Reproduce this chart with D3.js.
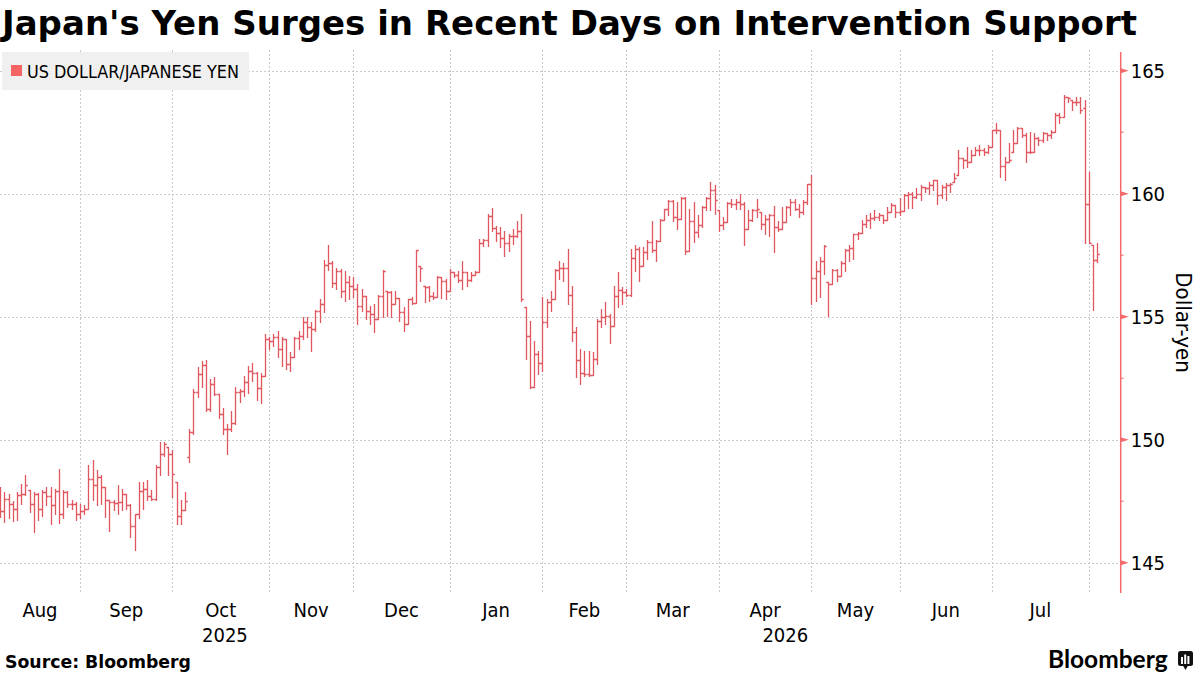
<!DOCTYPE html>
<html>
<head>
<meta charset="utf-8">
<script src="https://cdn.jsdelivr.net/npm/d3@7"></script>
<style>
  body { margin: 0; background: #fff; }
  svg { display: block; }
</style>
</head>
<body>
<svg id="chart" width="1200" height="675"></svg>
<script>
const title = "Japan's Yen Surges in Recent Days on Intervention Support"
const seriesName = "US DOLLAR/JAPANESE YEN"
const yLabel = "Dollar-yen"
const source = "Source: Bloomberg"
const yTicks = [145, 150, 155, 160, 165]
const yMinorTicks = [147.5, 152.5, 157.5, 162.5]
const monthNames = ["Jan","Feb","Mar","Apr","May","Jun","Jul","Aug","Sep","Oct","Nov","Dec"]

// daily bars, [open, high, low, close]
const aug25 = [
  [147.8,148.08,146.86,147.1],[147.1,147.87,146.65,147.6],[147.6,147.8,146.8,147.37],
  [147.37,147.5,146.7,147.2],[147.2,147.87,146.72,147.74],[147.74,148.2,147.4,147.8],
  [147.8,148.55,147.75,148.15],[147.94,147.94,147.06,147.37],[147.37,147.87,146.25,147.8],
  [147.8,147.85,146.72,147.2],[147.2,147.94,146.9,147.87],[147.87,148.08,147.33,147.7],
  [147.7,148.08,146.59,147.33],[147.33,148.0,147.0,147.9],[147.9,148.8,146.6,147.0],
  [147.0,147.94,146.8,147.87],[147.87,147.9,147.26,147.4],[147.4,147.53,147.2,147.4],
  [147.4,147.46,146.72,146.99]
]
const sep25 = [
  [146.99,147.4,146.8,147.1],[147.1,147.33,147.0,147.2],[147.2,148.96,147.2,148.4],
  [148.4,149.16,147.53,148.15],[148.15,148.75,147.33,148.5],[148.5,148.55,147.4,148.08],
  [148.08,148.08,146.86,147.53],[147.53,147.53,146.31,147.46],[147.46,147.53,147.13,147.43],
  [147.43,148.15,146.99,147.46],[147.46,148.0,147.13,147.78],[147.78,147.8,147.2,147.33],
  [147.33,147.4,146.04,146.48],[146.48,146.99,145.5,146.99],[146.99,148.28,146.8,147.9],
  [147.9,148.28,147.2,148.0],[148.0,148.35,147.53,147.7],[147.7,147.94,147.53,147.6],
  [147.6,148.96,147.53,148.89],[148.89,149.9,148.55,149.4],[149.4,149.9,149.35,149.84],
  [149.7,149.7,148.55,149.4]
]
const oct25 = [
  [149.4,149.6,147.67,148.62],[148.28,148.28,146.59,146.9],[146.9,147.53,146.59,147.13],
  [147.13,147.87,147.13,147.5],[149.3,150.45,149.1,150.3],[150.3,152.06,150.23,151.92],
  [151.92,152.97,151.72,152.67],[152.67,153.21,152.13,153.05],[153.05,153.24,151.15,151.25],
  [151.25,152.47,151.18,152.26],[152.26,152.56,151.8,151.86],[151.86,151.86,150.9,151.04],
  [151.04,151.31,150.23,150.43],[150.43,150.64,149.42,150.43],[150.43,151.18,150.37,150.7],
  [150.7,152.13,150.65,151.92],[151.92,152.06,151.52,151.99],[151.99,152.6,151.78,152.35],
  [152.35,153.0,151.9,152.8],[152.8,153.1,152.4,152.7],[152.7,152.75,151.6,152.1],
  [152.1,152.7,151.5,152.6],[152.6,154.3,152.6,154.1]
]
const nov25 = [
  [154.1,154.16,153.69,154.02],[154.02,154.3,153.82,154.19],[154.19,154.43,153.35,153.69],
  [153.69,154.16,153.01,154.09],[154.09,154.09,152.87,153.08],[153.08,153.55,152.8,153.35],
  [153.35,154.16,153.35,154.13],[154.13,154.43,153.69,154.2],[154.2,155.0,154.09,154.77],
  [154.77,154.97,154.16,154.57],[154.57,154.77,153.62,154.5],[154.5,155.27,154.43,155.24],
  [155.24,155.72,154.77,155.51],[155.51,157.3,155.18,157.1],[157.1,157.9,156.9,157.2],
  [157.2,157.28,156.19,156.39],[156.39,157.0,156.12,156.85],[156.85,156.94,155.79,156.06],
  [156.06,156.87,155.65,156.4],[156.4,156.67,155.7,156.26]
]
const dec25 = [
  [156.26,156.6,155.8,156.12],[156.12,156.33,154.7,155.45],[155.45,156.12,155.24,155.85],
  [155.85,155.85,154.9,155.24],[155.24,155.45,154.7,155.1],[155.1,155.5,154.36,154.9],
  [154.9,155.9,154.9,155.85],[155.85,156.9,154.97,156.87],[156.06,156.06,155.04,156.0],
  [156.0,156.06,154.97,155.5],[155.5,156.06,155.5,155.78],[155.78,155.78,154.84,155.2],
  [155.2,155.38,154.43,154.7],[154.7,155.72,154.7,155.7],[155.7,155.79,155.5,155.55],
  [155.55,157.72,155.55,157.7],[157.07,157.07,156.46,157.0],[156.26,156.26,155.58,156.19],
  [156.19,156.26,155.65,155.85],[155.85,155.99,155.72,155.81],[155.81,156.67,155.81,156.6],
  [156.6,156.6,155.78,156.46],[156.46,156.53,155.72,156.06]
]
const jan26 = [
  [156.06,156.94,156.06,156.8],[156.8,156.8,156.6,156.7],[156.7,156.87,156.4,156.5],
  [156.5,157.28,156.12,156.8],[156.8,156.8,156.26,156.5],[156.5,156.8,156.46,156.7],
  [156.7,156.87,156.7,156.8],[156.8,158.16,156.8,158.0],[158.0,158.16,157.89,158.1],
  [158.1,159.17,157.89,159.1],[159.1,159.4,158.5,158.6],[158.6,158.7,158.09,158.4],
  [158.4,158.63,157.82,158.2],[158.2,158.5,157.48,158.0],[158.0,158.36,157.68,158.3],
  [158.3,158.56,157.95,158.3],[158.3,158.9,158.22,158.5],[158.5,159.17,155.65,155.7],
  [155.4,155.4,153.3,154.2],[154.2,154.84,152.12,152.15],[152.15,154.02,152.15,153.48],
  [153.48,153.6,152.66,153.1]
]
const feb26 = [
  [153.1,155.8,152.8,154.77],[154.77,155.72,154.57,155.58],[155.58,156.06,155.25,155.72],
  [155.72,156.94,155.72,156.9],[156.9,157.28,156.53,157.0],[157.0,157.2,156.47,157.0],
  [157.0,157.76,155.52,155.9],[155.9,156.26,154.02,154.36],[154.36,154.57,152.53,153.24],
  [153.24,153.68,152.26,152.73],[152.73,153.61,152.6,152.67],[152.67,153.6,152.6,152.65],
  [152.65,153.55,152.65,153.27],[153.27,154.9,153.07,154.84],[154.84,155.31,154.57,155.0],
  [155.0,155.58,154.7,155.04],[155.04,155.11,153.95,154.63],[154.63,156.26,154.63,155.86],
  [155.86,156.8,155.38,156.1],[156.1,156.2,155.52,156.0]
]
const mar26 = [
  [156.0,156.13,155.86,155.9],[155.9,157.76,155.86,157.4],[157.4,157.9,156.87,157.76],
  [157.76,157.83,156.47,157.08],[157.08,157.83,157.08,157.62],[157.62,158.1,157.35,158.03],
  [158.03,158.91,157.62,157.7],[157.7,158.1,157.28,158.07],[158.07,158.98,158.07,158.94],
  [158.94,159.39,158.94,159.39],[159.39,159.73,159.12,159.7],[159.7,159.73,158.91,159.05],
  [159.05,159.66,158.57,158.98],[158.98,159.86,158.98,159.84],[159.84,159.86,157.55,157.69],
  [157.69,159.39,157.69,158.9],[158.9,159.66,158.03,158.44],[158.44,159.12,158.23,158.71],
  [158.71,159.52,158.64,159.46],[159.46,159.86,159.32,159.84],[159.84,160.48,159.32,160.14],
  [160.14,160.34,159.18,159.73]
]
const apr26 = [
  [159.32,159.32,158.5,158.71],[158.71,159.05,158.57,158.85],[158.85,159.66,158.85,159.62],
  [159.62,159.8,159.46,159.59],[159.59,159.8,159.39,159.66],[159.66,160.0,159.39,159.59],
  [159.59,159.66,157.9,158.57],[158.57,159.32,158.57,158.94],[158.94,159.39,158.91,159.32],
  [159.32,159.8,159.05,159.39],[159.25,159.25,158.57,158.78],[158.78,159.12,158.37,158.98],
  [158.98,159.18,158.3,159.12],[159.12,159.52,157.62,158.64],[158.64,158.91,158.5,158.57],
  [158.57,159.46,158.57,158.84],[158.84,159.52,158.84,159.46],[159.46,159.8,159.12,159.66],
  [159.66,159.8,159.32,159.39],[159.39,159.59,159.05,159.25],[159.25,159.73,159.18,159.66],
  [159.66,160.41,159.59,160.4]
]
const may26 = [
  [160.4,160.75,155.52,156.58],[156.58,157.28,155.65,156.87],[156.87,157.42,155.79,157.28],
  [157.28,157.9,156.74,157.86],[156.4,156.4,155.04,156.33],[156.33,156.94,156.33,156.9],
  [156.9,156.94,156.46,156.67],[156.67,157.28,156.67,157.2],[157.2,157.76,156.87,157.7],
  [157.7,157.9,157.28,157.8],[157.8,158.37,157.35,158.37],[158.37,158.44,158.16,158.4],
  [158.4,158.95,158.4,158.75],[158.75,159.15,158.65,158.95],[158.95,159.22,158.62,159.0],
  [159.0,159.34,158.93,159.04],[159.04,159.2,158.93,159.13],[159.13,159.13,158.79,158.93],
  [158.93,159.47,158.93,159.27],[159.27,159.61,159.27,159.54],[159.54,159.54,159.07,159.27]
]
const jun26 = [
  [159.27,159.81,159.13,159.3],[159.3,160.0,159.3,159.95],[159.95,160.08,159.4,160.0],
  [160.0,160.08,159.4,159.88],[159.88,160.22,159.81,160.0],[160.0,160.35,159.74,160.28],
  [160.28,160.28,160.08,160.22],[160.22,160.49,160.0,160.35],[160.35,160.56,160.15,160.56],
  [160.56,160.56,159.6,159.95],[159.95,160.35,159.81,160.28],[160.28,160.42,159.74,160.35],
  [160.35,160.42,160.08,160.39],[160.49,160.83,160.49,160.62],[160.76,161.78,160.76,161.44],
  [161.44,161.44,161.03,161.37],[161.37,161.91,161.1,161.3],[161.3,161.78,161.3,161.57],
  [161.57,161.91,161.57,161.78],[161.78,161.98,161.57,161.78],[161.78,161.84,161.57,161.71],
  [161.71,161.98,161.64,161.91]
]
const jul26 = [
  [161.91,162.59,161.91,162.59],[162.59,162.86,162.45,162.59],[162.59,162.59,160.69,161.12],
  [161.12,161.5,160.56,161.3],[161.3,162.05,161.3,161.37],[161.71,162.59,161.71,162.07],
  [162.07,162.73,162.05,162.66],[162.66,162.66,162.32,162.39],[162.39,162.45,161.3,161.71],
  [161.71,162.52,161.64,161.71],[161.71,162.45,161.71,162.25],[162.25,162.32,161.98,162.18],
  [162.18,162.52,162.11,162.45],[162.45,162.45,162.18,162.39],[162.39,162.59,162.25,162.52],
  [162.52,163.27,162.52,163.2],[163.2,163.27,162.86,163.13],[163.13,164.02,163.13,163.94],
  [163.94,163.94,163.74,163.87],[163.81,163.81,163.4,163.74],[163.74,163.94,163.6,163.74],
  [163.74,163.94,163.27,163.4],[163.47,163.81,157.98,159.6]
]
const aug26 = [
  [159.6,160.89,157.98,158.0],[157.9,157.91,155.27,157.3],[157.3,157.98,157.24,157.55]
]

const barColor = "#e05760"
const axisColor = "#f26a6a"
const gridColor = "#c9c9c9"
const labelFont = "'DejaVu Sans Condensed', 'DejaVu Sans', sans-serif"

const svg = d3.select("#chart")
const plot = {left: 0, right: 1120.7, top: 52, bottom: 593}

// trading days: weekdays from the first bar on
const bars = [].concat(aug25, sep25, oct25, nov25, dec25, jan26, feb26, mar26, apr26, may26, jun26, jul26, aug26)
const days = d3.timeDay.range(new Date(2025, 7, 5), new Date(2026, 7, 6)).filter(d => d.getDay() % 6 !== 0)
const data = bars.map((b, i) => ({i: i, date: days[i], o: b[0], h: b[1], l: b[2], c: b[3]}))

const x = d3.scaleLinear().domain([0, 266.6]).range([0.1, plot.right])
const y = d3.scaleLinear().domain([143.77, 165.76]).range([plot.bottom, plot.top])
const snap = v => Math.round(v) + 0.5

function fitText(sel, target) {
  const w = sel.node().getComputedTextLength()
  if (Math.abs(w - target) > 1.5) sel.attr("textLength", target).attr("lengthAdjust", "spacingAndGlyphs")
}

// month boundaries = first trading day of each month
const monthStarts = data.filter((d, k) => k > 0 && d.date.getMonth() !== data[k - 1].date.getMonth())

// grid
const grid = svg.append("g").attr("stroke", gridColor).attr("stroke-width", 1).attr("stroke-dasharray", "2,2")
grid.selectAll("line.h").data(yTicks).join("line").attr("class", "h")
  .attr("x1", plot.left).attr("x2", plot.right)
  .attr("y1", d => snap(y(d))).attr("y2", d => snap(y(d)))
grid.selectAll("line.v").data(monthStarts).join("line").attr("class", "v")
  .attr("x1", d => snap(x(d.i))).attr("x2", d => snap(x(d.i)))
  .attr("y1", 50).attr("y2", plot.bottom)

// OHLC bars
svg.append("g").attr("fill", "none").attr("stroke", barColor).attr("stroke-width", 1.3)
  .selectAll("path").data(data).join("path")
  .attr("d", d => {
    const cx = snap(x(d.i))
    return `M${cx},${Math.round(y(d.h))}V${Math.round(y(d.l)) + 1}` +
      `M${cx - 2.2},${snap(y(d.o))}H${cx}` +
      `M${cx},${snap(y(d.c))}H${cx + 2.2}`
  })

// month labels, centred in each month's span
const bounds = [plot.left].concat(monthStarts.map(d => x(d.i)), [plot.right])
const monthSegs = []
for (let k = 0; k < bounds.length - 1; k++) {
  const first = k === 0 ? data[0] : monthStarts[k - 1]
  monthSegs.push({name: monthNames[first.date.getMonth()], x0: bounds[k], x1: bounds[k + 1]})
}
svg.append("g").selectAll("text").data(monthSegs.filter(s => s.x1 - s.x0 > 40)).join("text")
  .attr("x", s => (s.x0 + s.x1) / 2).attr("y", 617)
  .attr("text-anchor", "middle").style("font-family", labelFont).style("font-size", "20px")
  .text(s => s.name)

// year labels, centred in each year's visible span
const yearStarts = monthStarts.filter(d => d.date.getMonth() === 0)
const yBounds = [plot.left].concat(yearStarts.map(d => x(d.i)), [plot.right])
const years = yBounds.slice(0, -1).map((b, k) => ({
  year: k === 0 ? data[0].date.getFullYear() : yearStarts[k - 1].date.getFullYear(),
  mid: (b + yBounds[k + 1]) / 2
}))
svg.append("g").selectAll("text").data(years).join("text")
  .attr("x", d => d.mid).attr("y", 642)
  .attr("text-anchor", "middle").style("font-family", labelFont).style("font-size", "20px")
  .text(d => d.year)

// right axis
const yAxis = d3.axisRight(y).tickValues(yTicks).tickSize(0).tickPadding(10).tickFormat(d3.format("d"))
const axisG = svg.append("g").attr("transform", `translate(${plot.right},0)`).call(yAxis)
axisG.select(".domain").remove()
axisG.selectAll("text").style("font-family", labelFont).style("font-size", "20px").attr("fill", "#000")
axisG.append("line").attr("x1", 0).attr("x2", 0).attr("y1", plot.top).attr("y2", plot.bottom)
  .attr("stroke", axisColor).attr("stroke-width", 1.5)
axisG.selectAll("path.tri").data(yTicks).join("path").attr("class", "tri")
  .attr("d", d => `M0,${y(d) - 2.5}L8,${y(d)}L0,${y(d) + 2.5}Z`).attr("fill", axisColor)
axisG.selectAll("line.minor").data(yMinorTicks).join("line").attr("class", "minor")
  .attr("x1", 0).attr("x2", 3).attr("y1", d => y(d)).attr("y2", d => y(d))
  .attr("stroke", axisColor).attr("stroke-width", 1)

svg.append("text").attr("transform", `translate(1176,${(plot.top + plot.bottom) / 2}) rotate(90)`)
  .attr("text-anchor", "middle").style("font-family", labelFont).style("font-size", "22px")
  .text(yLabel)

// legend
svg.append("rect").attr("x", 2).attr("y", 52).attr("width", 247).attr("height", 38).attr("fill", "#f0f0f0")
svg.append("rect").attr("x", 11).attr("y", 65).attr("width", 11).attr("height", 11).attr("fill", "#f46464")
const legText = svg.append("text").attr("x", 27).attr("y", 78)
  .style("font-family", labelFont).style("font-size", "17.5px").text(seriesName)
fitText(legText, 212)

// title
const titleText = svg.append("text").attr("x", 2).attr("y", 35)
  .style("font-family", "'DejaVu Sans', sans-serif").style("font-weight", "bold").style("font-size", "33px")
  .text(title)
fitText(titleText, 1135)

// footer
const src = svg.append("text").attr("x", 5).attr("y", 668)
  .style("font-family", "'DejaVu Sans', sans-serif").style("font-weight", "bold").style("font-size", "17px")
  .text(source)
fitText(src, 186)

const brand = svg.append("text").attr("x", 1048).attr("y", 668)
  .style("font-family", "Lato, 'Open Sans', sans-serif").style("font-weight", "bold").style("font-size", "24.5px")
  .text("Bloomberg")
fitText(brand, 119)

const icon = svg.append("g").attr("transform", "translate(1178,651)")
icon.append("rect").attr("width", 15).attr("height", 15).attr("rx", 2.5).attr("fill", "#111")
icon.append("path").attr("d", "M5,14.5L7.5,19L10,14.5Z").attr("fill", "#111")
icon.selectAll("rect.b").data([[3, 6, 7], [6.2, 3.5, 9.5], [9.4, 5, 8]]).join("rect").attr("class", "b")
  .attr("x", d => d[0]).attr("y", d => d[1]).attr("width", 2).attr("height", d => d[2]).attr("fill", "#fff")
</script>
</body>
</html>
